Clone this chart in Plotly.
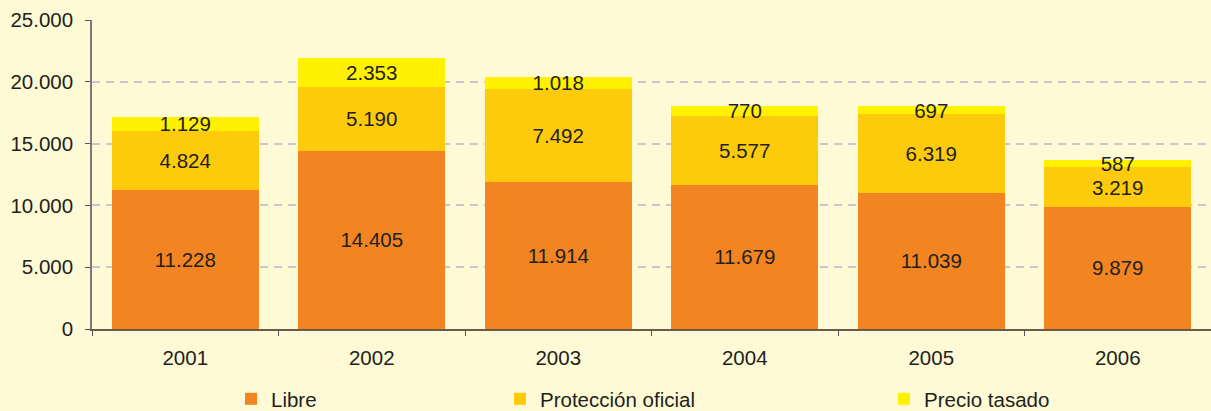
import plotly.graph_objects as go

years = ["2001", "2002", "2003", "2004", "2005", "2006"]
libre = [11228, 14405, 11914, 11679, 11039, 9879]
proteccion = [4824, 5190, 7492, 5577, 6319, 3219]
tasado = [1129, 2353, 1018, 770, 697, 587]

series_names = ["Libre", "Protección oficial", "Precio tasado"]
colors = ["#F28521", "#FDCB0B", "#FFF100"]
y_ticks = [0, 5000, 10000, 15000, 20000, 25000]

FONT = "Liberation Sans, Arial, sans-serif"
TXT = "#231F20"
BG = "#FEFAD6"
FS = 20.5

fig = go.Figure()
legends = ["legend", "legend2", "legend3"]
for name, vals, col, lg in zip(series_names, [libre, proteccion, tasado], colors, legends):
    fig.add_trace(go.Bar(
        x=years, y=vals, name=name, legend=lg, showlegend=True,
        marker=dict(color=col, line=dict(width=0)),
        texttemplate="%{y:,d}", textposition="inside", insidetextanchor="middle",
        textangle=0, textfont=dict(family=FONT, size=FS, color=TXT),
        hoverinfo="skip",
    ))

left, right, top, bottom = 92, 0, 20, 82
W, H = 1211, 411
pw = W - left - right
ph = H - top - bottom

def lx(px):
    return (px - left) / pw

leg_y = (H - bottom - 399) / ph
common = dict(orientation="h", yanchor="middle", xanchor="left", y=leg_y,
              bgcolor="rgba(0,0,0,0)", font=dict(family=FONT, size=FS, color=TXT),
              itemwidth=30)

fig.update_layout(
    width=W, height=H,
    margin=dict(l=left, r=right, t=top, b=bottom, autoexpand=False),
    barmode="stack", bargap=0.21,
    paper_bgcolor=BG, plot_bgcolor=BG,
    separators=",.",
    showlegend=True,
    uniformtext=dict(minsize=FS, mode="show"),
    font=dict(family=FONT, size=FS, color=TXT),
    legend=dict(x=lx(231), **common),
    legend2=dict(x=lx(500), **common),
    legend3=dict(x=lx(884), **common),
    xaxis=dict(
        type="category", tickson="boundaries", ticks="outside", ticklen=5,
        tickcolor="#555555", showline=True, linecolor="#6b5a48", linewidth=2,
        showgrid=False, ticklabelstandoff=9,
        tickfont=dict(family=FONT, size=FS, color=TXT),
    ),
    yaxis=dict(
        range=[0, 25000], tickvals=y_ticks, tickformat=",d",
        ticks="outside", ticklen=5, tickcolor="#555555",
        showline=True, linecolor="#7a7a7a", linewidth=1.5,
        showgrid=True, gridcolor="#C8C8C8", gridwidth=2, griddash="8px,6px",
        zeroline=False, ticklabelstandoff=8,
        tickfont=dict(family=FONT, size=FS, color=TXT),
    ),
)

fig.write_html("out.html", config={"displayModeBar": False},
               post_script="document.body.style.margin='0';document.body.style.overflow='hidden';")
